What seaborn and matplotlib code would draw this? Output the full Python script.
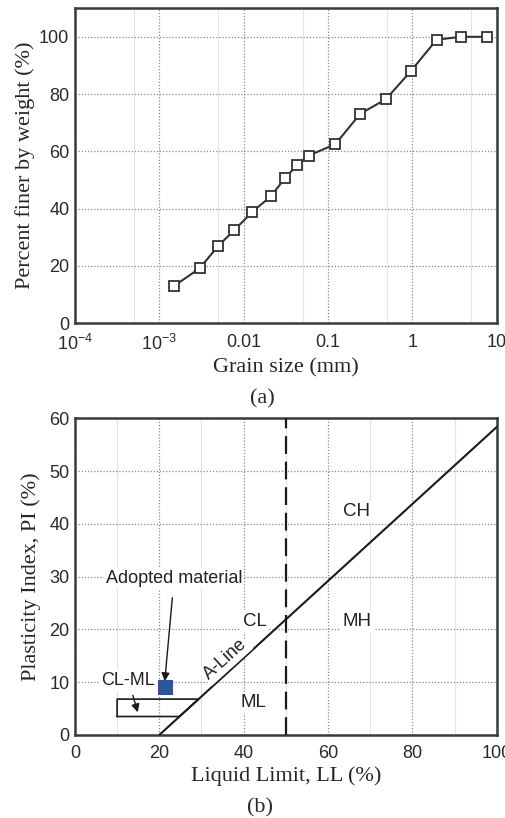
import numpy as np
import pandas as pd
import seaborn as sns
import matplotlib
matplotlib.use("Agg")
import matplotlib.pyplot as plt
from matplotlib.ticker import FixedLocator, FixedFormatter, MultipleLocator

# ---- data: grain size distribution (a) ----
grain_size_mm = [0.0015, 0.003, 0.005, 0.0077, 0.0126, 0.021, 0.031, 0.0427, 0.0587,
                 0.122, 0.24, 0.484, 0.955, 1.93, 3.8, 7.6]
percent_finer = [13.0, 19.1, 27.0, 32.4, 38.8, 44.3, 50.7, 55.1, 58.5,
                 62.5, 73.1, 78.2, 88.0, 99.0, 100.0, 100.0]
xtick_vals = [1e-4, 1e-3, 1e-2, 1e-1, 1, 10]
xtick_labels = [r"$\mathregular{10^{-4}}$", r"$\mathregular{10^{-3}}$", "0.01", "0.1", "1", "10"]

# ---- data: plasticity chart (b) ----
aline_ll = [20, 100]
aline_pi = [0.0, 58.4]
boundary_ll = [50, 50]
boundary_pi = [0, 60]
clml_ll = [10, 24.8, 29.3, 10, 10]
clml_pi = [3.5, 3.5, 6.8, 6.8, 3.5]
material_ll = [21.3]
material_pi = [9.0]
zone_labels = ["CH", "MH", "CL", "ML"]
zone_ll = [66.7, 66.9, 42.7, 42.2]
zone_pi = [42.4, 21.6, 21.6, 6.1]

sns.set_style("white")
plt.rcParams["font.family"] = ["Liberation Sans", "DejaVu Sans"]
plt.rcParams["mathtext.fontset"] = "custom"
plt.rcParams["mathtext.rm"] = "Liberation Sans"
plt.rcParams["mathtext.it"] = "Liberation Sans:italic"
plt.rcParams["mathtext.bf"] = "Liberation Sans:bold"

fig = plt.figure(figsize=(5.06, 8.18), dpi=100)
ax1 = fig.add_axes([0.148, 0.605, 0.834, 0.385])
ax2 = fig.add_axes([0.148, 0.1015, 0.834, 0.387])

spine_c = "#3a3a3a"
tick_fs = 13
lab_fs = 16
serif = ["Liberation Serif", "DejaVu Serif"]

def style(ax, xpad=6):
    for s in ax.spines.values():
        s.set_color(spine_c)
        s.set_linewidth(1.8)
    ax.tick_params(which="major", direction="in", length=5, width=1.0, color=spine_c,
                   labelsize=tick_fs, labelcolor="#2a2a2a", top=False, right=False)
    ax.tick_params(which="minor", direction="in", length=3, width=0.9, color=spine_c,
                   top=False, right=False)
    ax.tick_params(axis="x", which="major", pad=xpad)
    ax.tick_params(axis="y", which="major", pad=4)
    ax.grid(True, which="major", linestyle=(0, (1, 1.5)), color="#8a8a8a", linewidth=0.9)
    ax.set_axisbelow(True)

# ---- (a) ----
df_a = pd.DataFrame({"size": grain_size_mm, "finer": percent_finer})
sns.lineplot(data=df_a, x="size", y="finer", ax=ax1, color="#333333", linewidth=1.5,
             marker="s", markersize=7.5, markerfacecolor="white", markeredgecolor="#333333",
             markeredgewidth=1.3, zorder=3)
ax1.set_xscale("log")
ax1.set_xlim(1e-4, 10)
ax1.set_ylim(0, 110)
ax1.xaxis.set_major_locator(FixedLocator(xtick_vals))
ax1.xaxis.set_major_formatter(FixedFormatter(xtick_labels))
ax1.xaxis.set_minor_locator(FixedLocator([5e-4, 5e-3, 5e-2, 0.5, 5]))
ax1.xaxis.set_minor_formatter(FixedFormatter([""] * 5))
ax1.yaxis.set_major_locator(MultipleLocator(20))
ax1.yaxis.set_minor_locator(MultipleLocator(10))
style(ax1, xpad=7.5)
ax1.grid(True, which="minor", axis="x", linestyle="-", color="#e4e4e4", linewidth=0.8)
ax1.set_xlabel("Grain size (mm)", family=serif, fontsize=lab_fs, labelpad=3)
ax1.set_ylabel("Percent finer by weight (%)", family=serif, fontsize=lab_fs, labelpad=3)
fig.text(0.518, 0.513, "(a)", family=serif, fontsize=lab_fs, ha="center", va="center")

# ---- (b) ----
ax2.set_xlim(0, 100)
ax2.set_ylim(0, 60)
ax2.xaxis.set_major_locator(MultipleLocator(20))
ax2.xaxis.set_minor_locator(MultipleLocator(10))
ax2.yaxis.set_major_locator(MultipleLocator(10))
ax2.yaxis.set_minor_locator(MultipleLocator(5))
style(ax2, xpad=7)
ax2.grid(True, which="minor", axis="x", linestyle="-", color="#e4e4e4", linewidth=0.8)

sns.lineplot(x=aline_ll, y=aline_pi, ax=ax2, color="#1a1a1a", linewidth=1.5, zorder=3)
ax2.plot(boundary_ll, boundary_pi, color="#1a1a1a", linewidth=1.6,
         linestyle=(0, (8, 3.5)), zorder=3)
ax2.plot(clml_ll, clml_pi, color="#1a1a1a", linewidth=1.2, zorder=3)
sns.scatterplot(x=material_ll, y=material_pi, ax=ax2, marker="s", s=100,
                color="#2e5695", edgecolor="#2e5695", zorder=5)

bbox = dict(facecolor="white", edgecolor="none", pad=1.5)
for lab, xl, yl in zip(zone_labels, zone_ll, zone_pi):
    ax2.text(xl, yl, lab, fontsize=13.5, ha="center", va="center", color="#222222",
             bbox=bbox, zorder=4)
ax2.text(35.6, 14.3, "A-Line", fontsize=13, ha="center", va="center", rotation=42,
         color="#222222", bbox=bbox, zorder=4)
ax2.annotate("Adopted material", xy=(21.3, 10.2), xytext=(23.5, 29.6), fontsize=13,
             ha="center", va="center", color="#222222", bbox=bbox, zorder=4,
             arrowprops=dict(arrowstyle="-|>", color="#1a1a1a", lw=1.0,
                             shrinkA=6, shrinkB=0, mutation_scale=12))
ax2.annotate("CL-ML", xy=(14.9, 4.3), xytext=(12.7, 10.3), fontsize=13,
             ha="center", va="center", color="#222222", bbox=bbox, zorder=4,
             arrowprops=dict(arrowstyle="-|>", color="#1a1a1a", lw=1.0,
                             shrinkA=3, shrinkB=0, mutation_scale=12))

ax2.set_xlabel("Liquid Limit, LL (%)", family=serif, fontsize=lab_fs, labelpad=3)
ax2.set_ylabel("Plasticity Index, PI (%)", family=serif, fontsize=lab_fs, labelpad=6)
fig.text(0.514, 0.012, "(b)", family=serif, fontsize=lab_fs, ha="center", va="center")

fig.savefig("out.png", dpi=100)
